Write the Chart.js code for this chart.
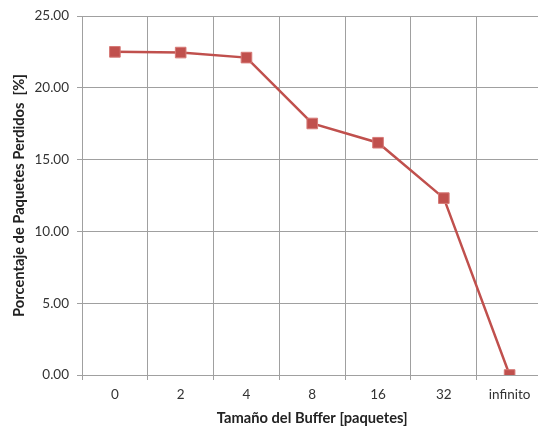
<!DOCTYPE html>
<html>
<head>
<meta charset="utf-8">
<script src="https://cdn.jsdelivr.net/npm/chart.js@4/dist/chart.umd.min.js"></script>
<style>
  html, body { margin: 0; padding: 0; overflow: hidden; background: #fff; }
  #wrap { width: 551px; height: 427px; position: relative; }
</style>
</head>
<body>
<div id="wrap"><canvas id="c"></canvas></div>
<script>
// Buffer sizes (packets) and the share of packets lost for each one
const bufferSizes = ['0', '2', '4', '8', '16', '32', 'infinito'];
const lossPercent = [22.51, 22.46, 22.11, 17.52, 16.18, 12.32, 0.00];
const yTicks = [0, 5, 10, 15, 20, 25];

const red = '#C0504D';
const gridGray = '#a0a0a0';
const textFont = 'Lato, "Open Sans", sans-serif';

new Chart(document.getElementById('c'), {
  type: 'line',
  data: {
    labels: bufferSizes,
    datasets: [{
      data: lossPercent,
      borderColor: red,
      backgroundColor: red,
      borderWidth: 2.5,
      tension: 0,
      pointStyle: 'rect',
      pointRadius: 7.5,
      pointBorderWidth: 1,
      pointBorderColor: '#d67976',
      pointBackgroundColor: red
    }]
  },
  options: {
    responsive: true,
    maintainAspectRatio: false,
    animation: false,
    layout: { padding: { top: 9, right: 5, bottom: 0, left: 10 } },
    plugins: { legend: { display: false }, tooltip: { enabled: false } },
    scales: {
      x: {
        offset: true,
        grid: { offset: true, color: gridGray, lineWidth: 1, tickLength: 5, drawTicks: true },
        border: { color: gridGray },
        ticks: { color: '#333', font: { family: textFont, size: 13.5 }, padding: 7, maxRotation: 0 },
        title: {
          display: true,
          text: 'Tamaño del Buffer [paquetes]',
          color: '#222',
          font: { family: textFont, size: 14.7, weight: 'bold' },
          padding: { top: 0, bottom: 0 }
        },
        afterFit: (axis) => { axis.height = 52; }
      },
      y: {
        min: 0,
        max: 25,
        afterBuildTicks: (axis) => { axis.ticks = yTicks.map(v => ({ value: v })); },
        grid: { color: gridGray, lineWidth: 1, tickLength: 5 },
        border: { color: gridGray },
        ticks: {
          color: '#333',
          font: { family: textFont, size: 13.5 },
          padding: 8,
          callback: (v) => Number(v).toFixed(2)
        },
        title: {
          display: true,
          text: 'Porcentaje de Paquetes Perdidos  [%]',
          color: '#222',
          font: { family: textFont, size: 14.7, weight: 'bold' },
          padding: { top: 0, bottom: 4 }
        },
        afterFit: (axis) => { axis.width = 72; }
      }
    }
  }
});
</script>
</body>
</html>
